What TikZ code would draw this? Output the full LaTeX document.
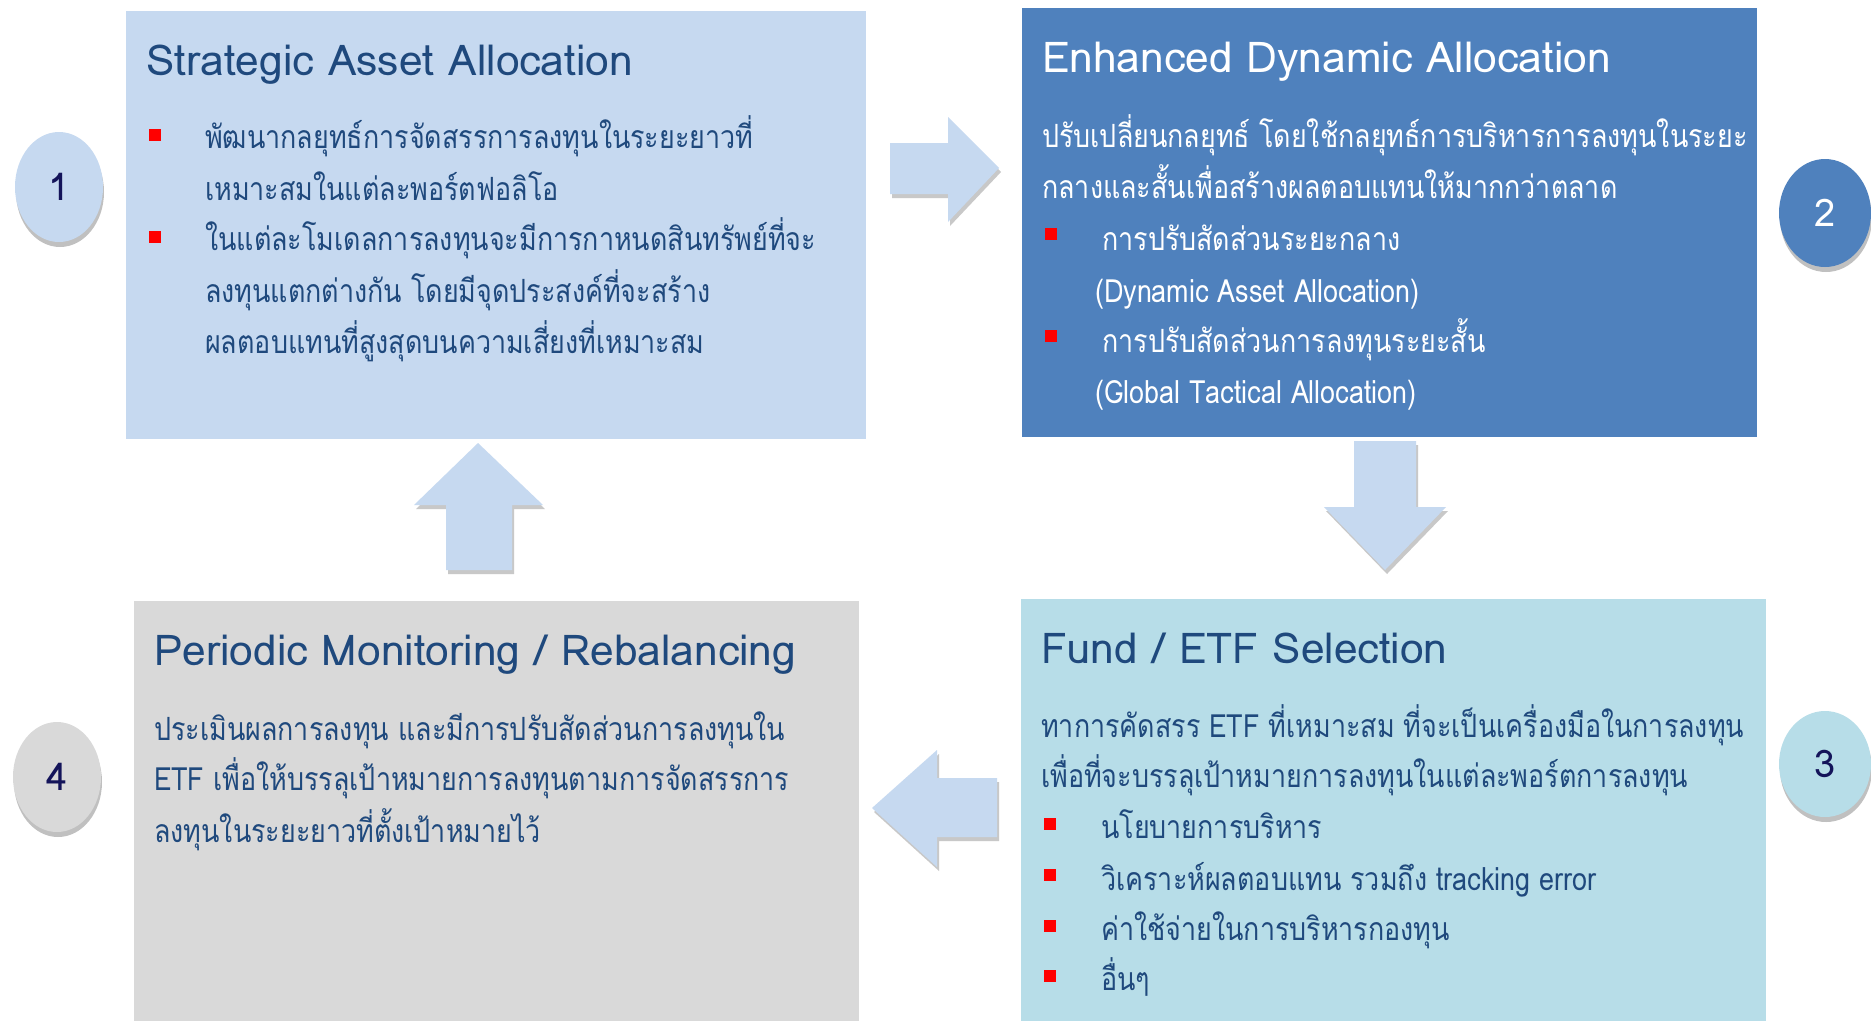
\documentclass[tikz,border=0pt]{standalone}
\usepackage{fontspec}
\usetikzlibrary{shapes.geometric,shadows}
\newfontfamily\thaifont[Script=Thai,FakeStretch=0.84]{Loma}
\newfontfamily\titlefont[Script=Thai]{Loma}
\definecolor{boxA}{HTML}{C6D9F0}
\definecolor{boxB}{HTML}{4F81BD}
\definecolor{boxC}{HTML}{B7DDE8}
\definecolor{boxD}{HTML}{D9D9D9}
\definecolor{ink}{HTML}{1F497D}
\definecolor{numink}{HTML}{14145A}
\definecolor{bulletred}{HTML}{FF0000}
\tikzset{
  panel/.style={rectangle, inner sep=0pt, draw=none, anchor=north west},
  ttl/.style={anchor=base west, inner sep=0pt, font=\titlefont\fontsize{42.5}{50}\selectfont},
  bodytxt/.style={anchor=base west, inner sep=0pt, font=\thaifont\fontsize{32}{38}\selectfont},
  sq/.style={rectangle, fill=bulletred, minimum width=12pt, minimum height=12pt, inner sep=0pt, anchor=north west},
  numoval/.style={ellipse, inner sep=0pt, minimum width=88pt, minimum height=110pt,
    font=\titlefont\fontsize{38}{42}\selectfont,
    drop shadow={shadow xshift=1pt, shadow yshift=-5pt, opacity=0.35, fill=black!70}},
  blockarrow/.style={fill=boxA, drop shadow={shadow xshift=2pt, shadow yshift=-4pt, opacity=0.3, fill=black!70}}
}
\begin{document}
\begin{tikzpicture}[x=1pt,y=-1pt]
\useasboundingbox (0,0) rectangle (1871,1021);
\fill[white] (0,0) rectangle (1871,1021);
% panels
\node[panel, fill=boxA, minimum width=740pt, minimum height=428pt] (p1) at (126,11) {};
\node[panel, fill=boxB, minimum width=735pt, minimum height=429pt] (p2) at (1022,8) {};
\node[panel, fill=boxC, minimum width=745pt, minimum height=422pt] (p3) at (1021,599) {};
\node[panel, fill=boxD, minimum width=725pt, minimum height=420pt] (p4) at (134,601) {};
% block arrows
\path[blockarrow] (890,143) -- (948,143) -- (948,117) -- (999,168) -- (948,222) -- (948,194) -- (890,194) -- cycle;
\path[blockarrow] (1354,441) -- (1416,441) -- (1416,507) -- (1446,507) -- (1385,570) -- (1324,507) -- (1354,507) -- cycle;
\path[blockarrow] (997,778) -- (997,837) -- (937,837) -- (937,867) -- (872,808) -- (937,750) -- (937,778) -- cycle;
\path[blockarrow] (446,570) -- (446,505) -- (414,505) -- (478,443) -- (543,505) -- (512,505) -- (512,570) -- cycle;
% number ovals
\node[numoval, fill=boxA, text=numink] (n1) at (59,187) {1};
\node[numoval, fill=boxB, text=white, minimum width=92pt, minimum height=108pt] (n2) at (1825,213) {2};
\node[numoval, fill=boxC, text=numink, minimum width=92pt, minimum height=106pt] (n3) at (1825,764) {3};
\node[numoval, fill=boxD, text=numink] (n4) at (57,777) {4};
% panel 1
\node[ttl, text=ink] (t1) at (146,75) {Strategic Asset Allocation};
\node[sq] (s1a) at (149,129) {};
\node[bodytxt, text=ink] (l1a) at (205,148) {พัฒนากลยุทธ์การจัดสรรการลงทุนในระยะยาวที่};
\node[bodytxt, text=ink] (l1b) at (205,200) {เหมาะสมในแต่ละพอร์ตฟอลิโอ};
\node[sq] (s1b) at (149,231) {};
\node[bodytxt, text=ink] (l1c) at (205,250) {ในแต่ละโมเดลการลงทุนจะมีการกาหนดสินทรัพย์ที่จะ};
\node[bodytxt, text=ink] (l1d) at (205,302) {ลงทุนแตกต่างกัน โดยมีจุดประสงค์ที่จะสร้าง};
\node[bodytxt, text=ink] (l1e) at (205,353) {ผลตอบแทนที่สูงสุดบนความเสี่ยงที่เหมาะสม};
% panel 2
\node[ttl, text=white] (t2) at (1042,72) {Enhanced Dynamic Allocation};
\node[bodytxt, text=white] (l2a) at (1042,147) {ปรับเปลี่ยนกลยุทธ์ โดยใช้กลยุทธ์การบริหารการลงทุนในระยะ};
\node[bodytxt, text=white] (l2b) at (1042,198) {กลางและสั้นเพื่อสร้างผลตอบแทนให้มากกว่าตลาด};
\node[sq] (s2a) at (1045,228) {};
\node[bodytxt, text=white] (l2c) at (1102,250) {การปรับสัดส่วนระยะกลาง};
\node[bodytxt, text=white] (l2d) at (1095,302) {(Dynamic Asset Allocation)};
\node[sq] (s2b) at (1045,330) {};
\node[bodytxt, text=white] (l2e) at (1102,352) {การปรับสัดส่วนการลงทุนระยะสั้น};
\node[bodytxt, text=white] (l2f) at (1095,403) {(Global Tactical Allocation)};
% panel 3
\node[ttl, text=ink] (t3) at (1041,663) {Fund / ETF Selection};
\node[bodytxt, text=ink] (l3a) at (1041,737) {ทาการคัดสรร ETF ที่เหมาะสม ที่จะเป็นเครื่องมือในการลงทุน};
\node[bodytxt, text=ink] (l3b) at (1041,787) {เพื่อที่จะบรรลุเป้าหมายการลงทุนในแต่ละพอร์ตการลงทุน};
\node[sq] (s3a) at (1044,818) {};
\node[bodytxt, text=ink] (l3c) at (1101,838) {นโยบายการบริหาร};
\node[sq] (s3b) at (1044,869) {};
\node[bodytxt, text=ink] (l3d) at (1101,890) {วิเคราะห์ผลตอบแทน รวมถึง tracking error};
\node[sq] (s3c) at (1044,920) {};
\node[bodytxt, text=ink] (l3e) at (1101,940) {ค่าใช้จ่ายในการบริหารกองทุน};
\node[sq] (s3d) at (1044,970) {};
\node[bodytxt, text=ink] (l3f) at (1101,990) {อื่นๆ};
% panel 4
\node[ttl, text=ink] (t4) at (154,665) {Periodic Monitoring / Rebalancing};
\node[bodytxt, text=ink] (l4a) at (154,740) {ประเมินผลการลงทุน และมีการปรับสัดส่วนการลงทุนใน};
\node[bodytxt, text=ink] (l4b) at (154,790) {ETF เพื่อให้บรรลุเป้าหมายการลงทุนตามการจัดสรรการ};
\node[bodytxt, text=ink] (l4c) at (154,842) {ลงทุนในระยะยาวที่ตั้งเป้าหมายไว้};
\end{tikzpicture}
\end{document}
